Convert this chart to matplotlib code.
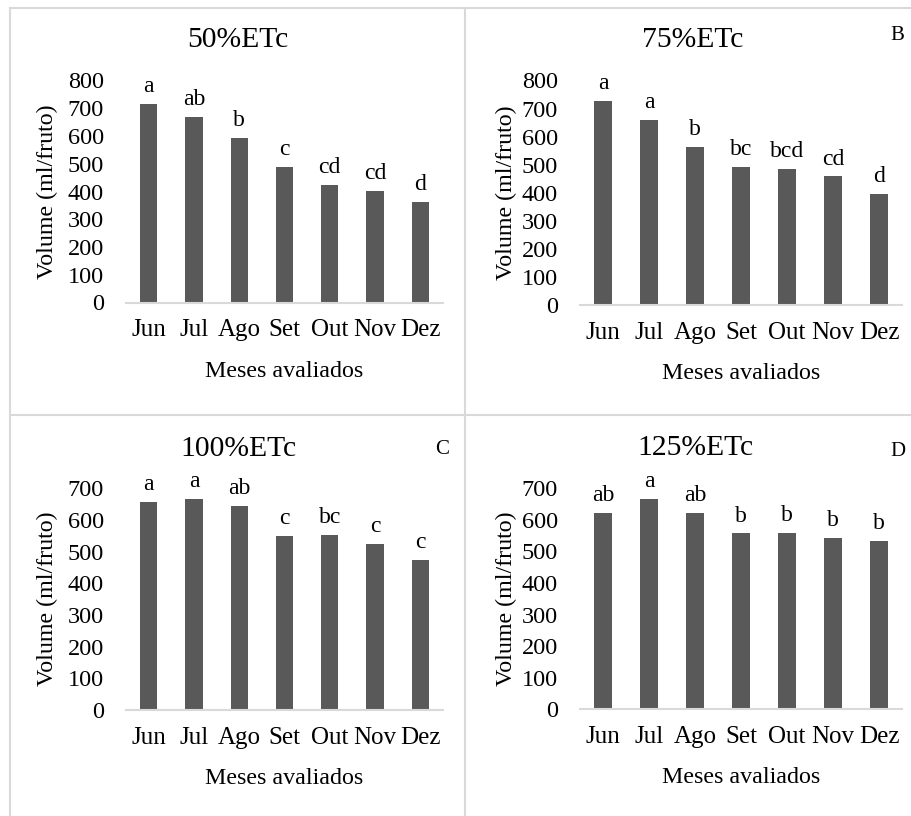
import matplotlib
matplotlib.use("Agg")
import matplotlib.pyplot as plt
from matplotlib.lines import Line2D

plt.rcParams['font.family'] = ['Liberation Serif', 'DejaVu Serif']

meses = ['Jun', 'Jul', 'Ago', 'Set', 'Out', 'Nov', 'Dez']

# volume medio (ml/fruto) por lamina
vol_50 = [714, 668, 593, 489, 423, 401, 362]
vol_75 = [727, 660, 562, 493, 485, 458, 396]
vol_100 = [658, 666, 645, 548, 554, 525, 474]
vol_125 = [623, 666, 623, 557, 560, 542, 532]

# letras do teste de medias
let_50 = ['a', 'ab', 'b', 'c', 'cd', 'cd', 'd']
let_75 = ['a', 'a', 'b', 'bc', 'bcd', 'cd', 'd']
let_100 = ['a', 'a', 'ab', 'c', 'bc', 'c', 'c']
let_125 = ['ab', 'a', 'ab', 'b', 'b', 'b', 'b']

titulos = ['50%ETc', '75%ETc', '100%ETc', '125%ETc']
painel = ['', 'B', 'C', 'D']

W, H = 911, 816
fig = plt.figure(figsize=(W / 100, H / 100), dpi=100)

def fx(px):
    return px / W

def fy(py):
    return 1 - py / H

# celulas da tabela (pixels: esquerda, direita, topo do eixo, base do eixo)
cfg = [
    (vol_50, let_50, 800, (126, 443, 80.5, 302.5), (238, 40), (0, 0), -0.215),
    (vol_75, let_75, 800, (580, 902, 80.5, 305), (693, 40), (897, 35), -0.197),
    (vol_100, let_100, 700, (126, 443, 488.3, 710), (238, 449), (442, 449), -0.215),
    (vol_125, let_125, 700, (580, 902, 488.3, 709.3), (695, 448), (898, 452), -0.197),
]

cinza = '#595959'
borda = '#d9d9d9'

for i, (vals, lets, ymax, (x0, x1, ytop, ybot), tpos, ppos, ylx) in enumerate(cfg):
    ax = fig.add_axes([fx(x0), fy(ybot), fx(x1) - fx(x0), fy(ytop) - fy(ybot)])
    bars = ax.bar(meses, vals, width=0.38, color=cinza)
    for b, l in zip(bars, lets):
        ax.annotate(l, (b.get_x() + b.get_width() / 2, b.get_height()),
                    xytext=(0, 5), textcoords='offset points',
                    ha='center', va='bottom', fontsize=17)
    ax.set_xlim(-0.5, 6.5)
    ax.set_ylim(0, ymax)
    ax.set_yticks(range(0, ymax + 1, 100))
    ax.tick_params(length=0, labelsize=17.5)
    ax.tick_params(axis='x', labelsize=18, pad=12)
    ax.tick_params(axis='y', pad=16)
    for s in ['top', 'right', 'left']:
        ax.spines[s].set_visible(False)
    ax.spines['bottom'].set_color(borda)
    ax.spines['bottom'].set_linewidth(1.5)
    ax.set_xlabel('Meses avaliados', fontsize=17.3, labelpad=14)
    ax.set_ylabel('Volume (ml/fruto)', fontsize=17.3)
    ax.yaxis.set_label_coords(ylx, 0.5)
    fig.text(fx(tpos[0]), fy(tpos[1]), titulos[i], ha='center', va='center', fontsize=21.3)
    if painel[i]:
        fig.text(fx(ppos[0]), fy(ppos[1]), painel[i], ha='center', va='center', fontsize=15)

# linhas da tabela
for xs, ys in [((10, 10), (8, H)), ((465, 465), (8, H)),
               ((10, W), (8, 8)), ((10, W), (415, 415))]:
    fig.add_artist(Line2D([fx(xs[0]), fx(xs[1])], [fy(ys[0]), fy(ys[1])],
                          color=borda, lw=1.5, transform=fig.transFigure))

fig.savefig('out.png', dpi=100)
